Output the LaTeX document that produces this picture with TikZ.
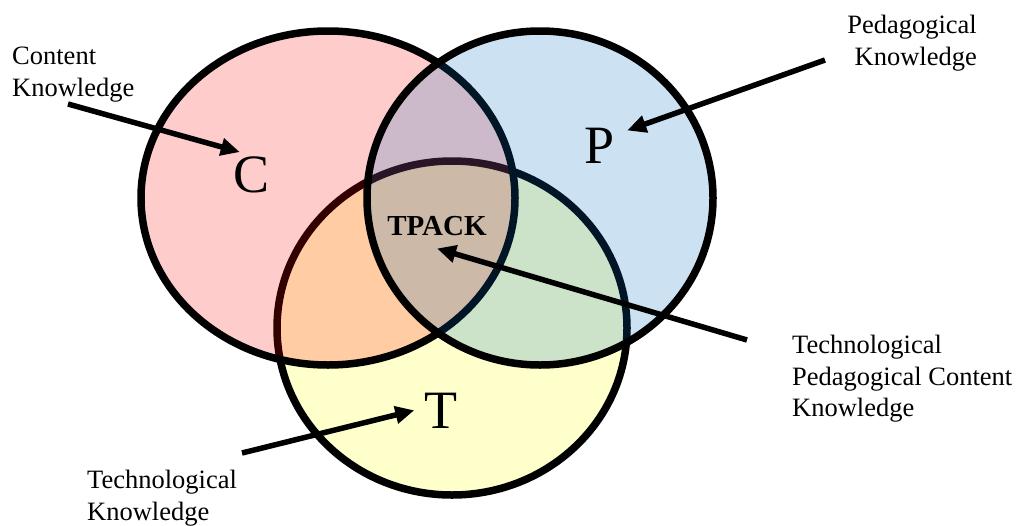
\documentclass[tikz,border=0pt]{standalone}
\usepackage{fontspec}
\setmainfont{Liberation Serif}
\usetikzlibrary{arrows.meta}

\definecolor{ccol}{RGB}{255,0,0}
\definecolor{pcol}{RGB}{0,112,192}
\definecolor{tcol}{RGB}{255,255,0}

\begin{document}
\begin{tikzpicture}[
x=1pt, y=-1pt,
ring/.style={draw=black, line width=7.5pt, fill opacity=0.2},
letter/.style={inner sep=0pt, anchor=base, font=\fontsize{54}{60}\selectfont},
note/.style={inner sep=0pt, align=left, font=\fontsize{26.5}{31.5}\selectfont},
arrow/.style={-{Triangle[length=19pt,width=17pt]}, line width=5.5pt}
]
\useasboundingbox (0,0) rectangle (1019,525);

% the three sets, T under C under P
\filldraw[ring, fill=tcol] (452,328) ellipse [x radius=175, y radius=167];
\filldraw[ring, fill=ccol] (328,198) ellipse [x radius=187, y radius=167];
\filldraw[ring, fill=pcol] (540,198) ellipse [x radius=173, y radius=167];

\node[letter] (C) at (252,192) {C};
\node[letter] (P) at (600,163) {P};
\node[letter] (T) at (441,428) {T};
\node[letter, font=\fontsize{29}{34}\selectfont\bfseries] (tpack) at (437,235) {TPACK};

\node[note, anchor=north west] (ck) at (12,47) {Content\\Knowledge};
\node[note, anchor=north east, align=right] (pk) at (977,15) {Pedagogical\\Knowledge};
\node[note, anchor=north west] (tpck) at (792,335) {Technological\\Pedagogical Content\\Knowledge};
\node[note, anchor=north west] (tk) at (87,470) {Technological\\Knowledge};

\coordinate (ckfrom) at (68,104);
\coordinate (pkfrom) at (825,60);
\coordinate (tpckfrom) at (747,340);
\coordinate (tkfrom) at (242,453);

\draw[arrow] (ckfrom) -- ([shift={(6,-4)}]C.north west);
\draw[arrow] (pkfrom) -- ([shift={(12,3)}]P.north east);
\draw[arrow] (tpckfrom) -- ([shift={(0,13)}]tpack.south);
\draw[arrow] (tkfrom) -- ([shift={(-10,0)}]T.west);

\end{tikzpicture}
\end{document}
